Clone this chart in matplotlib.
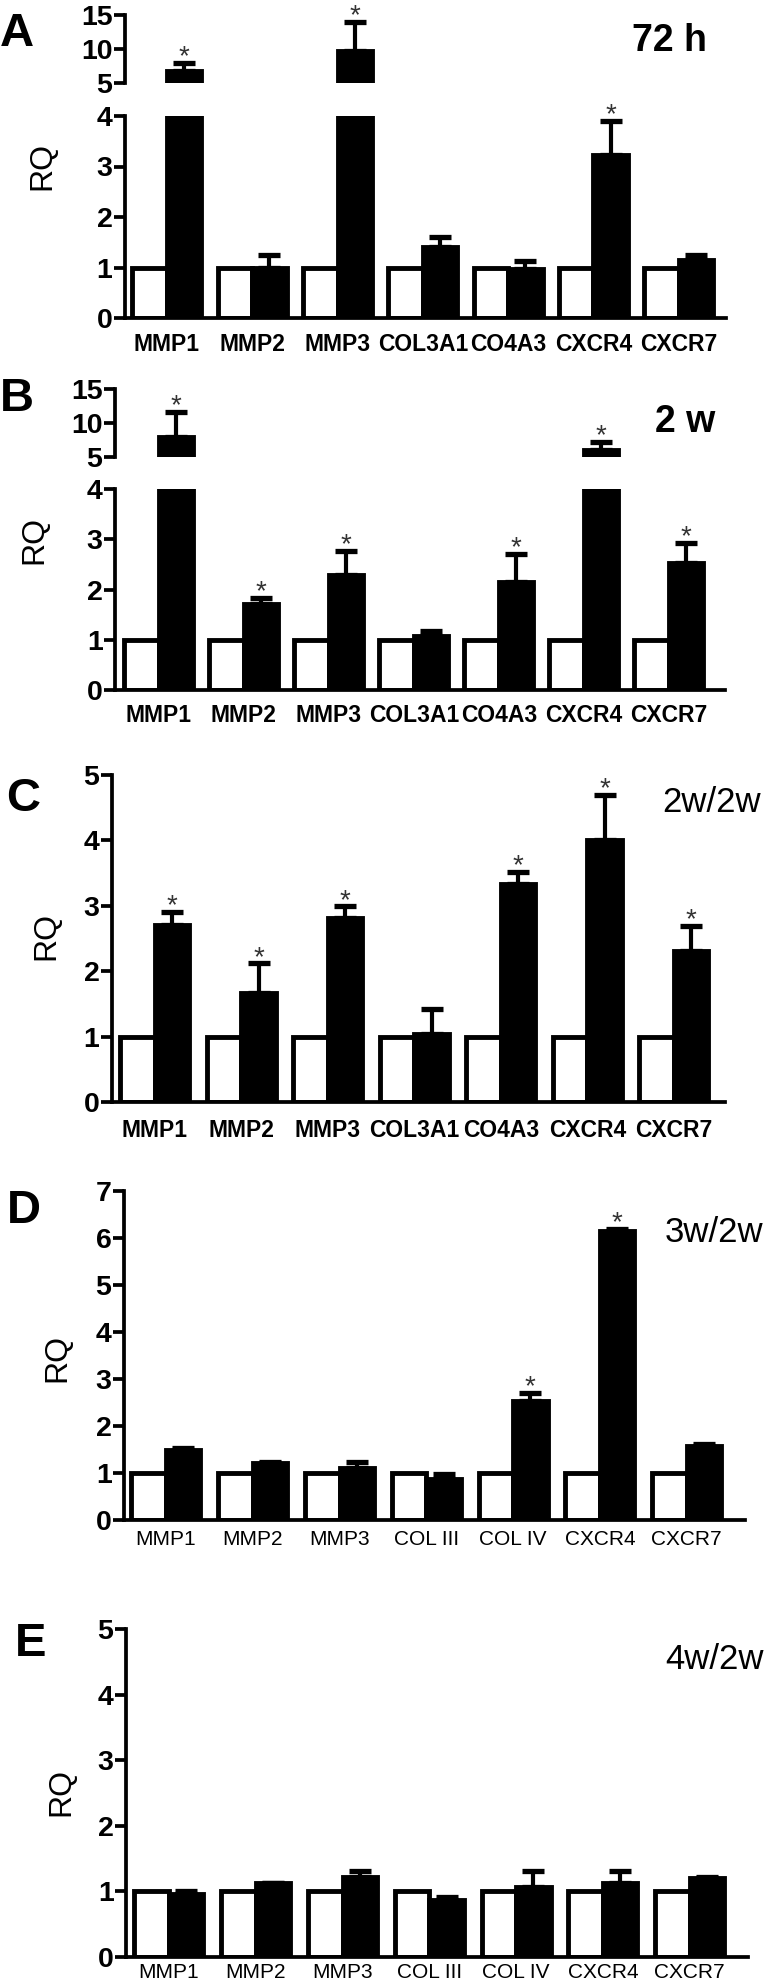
import numpy as np
import matplotlib
matplotlib.use('Agg')
import matplotlib.pyplot as plt

# ---------------- data ----------------
genes_abc = ["MMP1", "MMP2", "MMP3", "COL3A1", "CO4A3", "CXCR4", "CXCR7"]
genes_de = ["MMP1", "MMP2", "MMP3", "COL III", "COL IV", "CXCR4", "CXCR7"]

control = [1.0, 1.0, 1.0, 1.0, 1.0, 1.0, 1.0]

a_vals = [6.7, 1.0, 9.7, 1.41, 0.97, 3.22, 1.15]
a_err = [1.3, 0.25, 4.3, 0.20, 0.16, 0.68, 0.10]
a_sig = [1, 0, 1, 0, 0, 1, 0]

b_vals = [8.0, 1.71, 2.29, 1.07, 2.15, 6.0, 2.53]
b_err = [3.6, 0.12, 0.48, 0.10, 0.56, 1.25, 0.40]
b_sig = [1, 1, 1, 0, 1, 1, 1]

c_vals = [2.71, 1.67, 2.81, 1.04, 3.34, 4.0, 2.31]
c_err = [0.20, 0.45, 0.18, 0.38, 0.18, 0.69, 0.38]
c_sig = [1, 1, 1, 0, 1, 1, 1]

d_vals = [1.48, 1.21, 1.10, 0.87, 2.53, 6.15, 1.57]
d_err = [0.05, 0.03, 0.13, 0.10, 0.18, 0.05, 0.04]
d_sig = [0, 0, 0, 0, 1, 1, 0]

e_vals = [0.96, 1.13, 1.22, 0.87, 1.07, 1.13, 1.21]
e_err = [0.05, 0.0, 0.09, 0.04, 0.24, 0.18, 0.01]
e_sig = [0, 0, 0, 0, 0, 0, 0]

# ---------------- style ----------------
W, H = 767, 1984
FONT = ['Liberation Sans', 'DejaVu Sans']
plt.rcParams['font.family'] = FONT
fig = plt.figure(figsize=(W / 100, H / 100), dpi=100)

LW_SP = 2.7
LW_BAR = 3.5
WB = 34.5  # bar width in px


def ax_rect(x0, x1, ytop, ybot):
    return [x0 / W, 1 - ybot / H, (x1 - x0) / W, (ybot - ytop) / H]


def style(ax, ticks, bottom=True):
    for s in ['top', 'right']:
        ax.spines[s].set_visible(False)
    ax.spines['left'].set_linewidth(LW_SP)
    if bottom:
        ax.spines['bottom'].set_linewidth(LW_SP)
    else:
        ax.spines['bottom'].set_visible(False)
    ax.set_yticks(ticks, [str(t) for t in ticks], fontweight='bold', fontsize=20.5)
    ax.tick_params(axis='y', length=8, width=LW_SP, pad=1.0)
    ax.set_facecolor('none')


def draw(ax, vals, errs, s):
    w = WB / s
    x = np.arange(len(vals))
    ax.bar(x - w / 2, control, w, color='white', edgecolor='black',
           linewidth=LW_BAR, zorder=2)
    ax.bar(x + w / 2, vals, w, color='black', edgecolor='black',
           linewidth=LW_BAR, zorder=2)
    ax.errorbar(x + w / 2, vals, yerr=[np.zeros(len(vals)), errs], fmt='none',
                ecolor='black', elinewidth=3.0, capsize=8, capthick=3.8, zorder=1)
    return x + w / 2


panels = [
    dict(vals=a_vals, err=a_err, sig=a_sig, genes=genes_abc, bold=True,
         x0=125, g0=130, s=85.3, xe=726, low=(318, 116), up=(83, 15),
         ticks_low=[0, 1, 2, 3, 4], ticks_up=[5, 10, 15], ymax=4,
         letter=('A', 0, 46), time=('72 h', 632, 51, 'bold', 27), rq=(42, 166), pad=10.5),
    dict(vals=b_vals, err=b_err, sig=b_sig, genes=genes_abc, bold=True,
         x0=115, g0=122, s=85.0, xe=725, low=(690, 489), up=(457, 389),
         ticks_low=[0, 1, 2, 3, 4], ticks_up=[5, 10, 15], ymax=4,
         letter=('B', 0, 411), time=('2 w', 655, 432, 'bold', 27), rq=(34, 540), pad=10),
    dict(vals=c_vals, err=c_err, sig=c_sig, genes=genes_abc, bold=True,
         x0=112, g0=118, s=86.5, xe=725, low=(1102, 775), up=None,
         ticks_low=[0, 1, 2, 3, 4, 5], ymax=5,
         letter=('C', 6, 811), time=('2w/2w', 662, 812, 'normal', 25), rq=(46, 936), pad=12),
    dict(vals=d_vals, err=d_err, sig=d_sig, genes=genes_de, bold=False,
         x0=124, g0=129, s=86.8, xe=745, low=(1520, 1191), up=None,
         ticks_low=[0, 1, 2, 3, 4, 5, 6, 7], ymax=7,
         letter=('D', 7, 1223), time=('3w/2w', 665, 1242, 'normal', 25), rq=(57, 1358), pad=7.5),
    dict(vals=e_vals, err=e_err, sig=e_sig, genes=genes_de, bold=False,
         x0=126, g0=132, s=86.8, xe=748, low=(1957, 1629), up=None,
         ticks_low=[0, 1, 2, 3, 4, 5], ymax=5,
         letter=('E', 15, 1656), time=('4w/2w', 665, 1669, 'normal', 25), rq=(61, 1792), pad=4.5),
]

for p in panels:
    s = p['s']
    c0 = p['g0'] + LW_BAR * 100 / 72 / 2 + WB
    xlim = ((p['x0'] - c0) / s, (p['xe'] - c0) / s)

    ybot, ytop = p['low']
    ax = fig.add_axes(ax_rect(p['x0'], p['xe'], ytop, ybot))
    xb = draw(ax, p['vals'], p['err'], s)
    ax.set_xlim(*xlim)
    ax.set_ylim(0, p['ymax'])
    style(ax, p['ticks_low'])
    ax.set_xticks(np.arange(7), p['genes'],
                  fontweight='bold' if p['bold'] else 'normal',
                  fontsize=16.5 if p['bold'] else 15)
    ax.tick_params(axis='x', length=0, pad=p['pad'])

    axu = None
    if p['up'] is not None:
        ub, ut = p['up']
        axu = fig.add_axes(ax_rect(p['x0'], p['xe'], ut, ub))
        draw(axu, p['vals'], p['err'], s)
        axu.set_xlim(*xlim)
        axu.set_ylim(5, 15)
        style(axu, p['ticks_up'], bottom=False)
        axu.set_xticks([])

    for i, sg in enumerate(p['sig']):
        if not sg:
            continue
        top = p['vals'][i] + p['err'][i]
        target = axu if (axu is not None and top > p['ymax']) else ax
        target.annotate('*', (xb[i], top), xytext=(0, -1), textcoords='offset points',
                        ha='center', va='baseline', fontsize=20, color='#333333')

    L, lx, ly = p['letter']
    fig.text(lx / W, 1 - ly / H, L, fontsize=34, fontweight='bold', ha='left', va='baseline')
    t, tx, ty, tw, tfs = p['time']
    fig.text(tx / W, 1 - ty / H, t, fontsize=tfs, fontweight=tw, ha='left', va='baseline')
    rx, ry = p['rq']
    fig.text(rx / W, 1 - ry / H, 'RQ', fontsize=23, rotation=90, ha='center', va='center')

fig.savefig('out.png', dpi=100)
